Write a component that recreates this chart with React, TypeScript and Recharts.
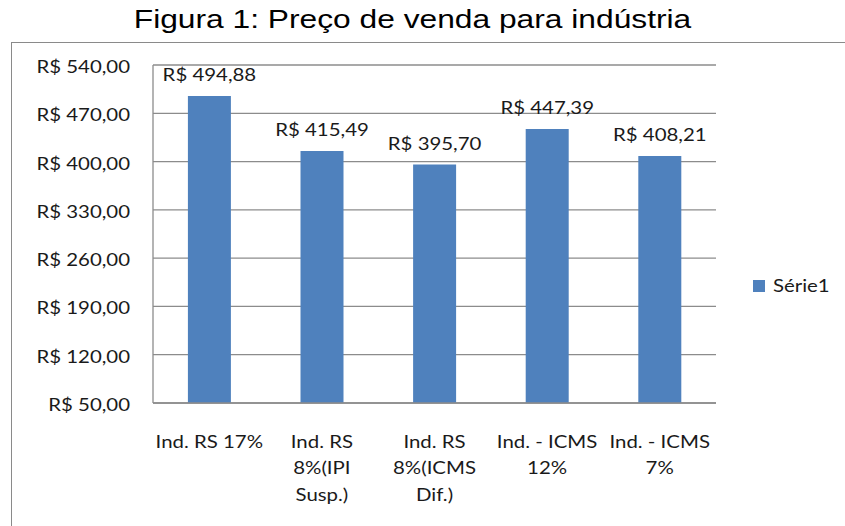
import React from 'react';
import { BarChart, Bar, XAxis, YAxis, CartesianGrid, Legend, LabelList } from 'recharts';

const title = 'Figura 1: Preço de venda para indústria';
const seriesName = 'Série1';
const categories = [
  'Ind. RS 17%',
  'Ind. RS\n8%(IPI\nSusp.)',
  'Ind. RS\n8%(ICMS\nDif.)',
  'Ind. - ICMS\n12%',
  'Ind. - ICMS\n7%',
];
const values = [494.88, 415.49, 395.7, 447.39, 408.21];
const yTicks = [50, 120, 190, 260, 330, 400, 470, 540];

const data = categories.map((c, i) => ({ category: c, value: values[i] }));

const FONT = 'Lato, "Open Sans", sans-serif';
const SX = 1.2;
const FS = 17;
const TEXT = '#1a1a1a';
const GRID = '#8c8c8c';
const BAR = '#4F81BD';

const brl = (v: number) => 'R$ ' + Number(v).toFixed(2).replace('.', ',');

const YTick = (props: any) => {
  const { x, y, payload } = props;
  return (
    <text
      transform={`translate(${x},${y + 8}) scale(${SX},1)`}
      textAnchor="end"
      fontFamily={FONT}
      fontSize={FS}
      fill={TEXT}
    >
      {brl(payload.value)}
    </text>
  );
};

const XTick = (props: any) => {
  const { x, y, payload } = props;
  const lines = String(payload.value).split('\n');
  return (
    <g>
      {lines.map((l, i) => (
        <text
          key={i}
          transform={`translate(${x},${y + 44.5 + i * 26.7}) scale(${SX},1)`}
          textAnchor="middle"
          fontFamily={FONT}
          fontSize={FS}
          fill={TEXT}
        >
          {l}
        </text>
      ))}
    </g>
  );
};

const BarLabel = (props: any) => {
  const vb = props.viewBox || {};
  const x = props.x ?? vb.x;
  const y = props.y ?? vb.y;
  const width = props.width ?? vb.width;
  return (
    <text
      transform={`translate(${x + width / 2},${y - 15}) scale(${SX},1)`}
      textAnchor="middle"
      fontFamily={FONT}
      fontSize={FS}
      fill={TEXT}
    >
      {brl(props.value)}
    </text>
  );
};

const LegendContent = (props: any) => {
  const payload = props.payload || [];
  return (
    <svg width={110} height={24} style={{ display: 'block' }}>
      {payload.map((p: any, i: number) => (
        <g key={i}>
          <rect x={3} y={4} width={12} height={12} fill={BAR} />
          <text
            transform={`translate(23,16) scale(${SX},1)`}
            fontFamily={FONT}
            fontSize={FS}
            fill={TEXT}
          >
            {p.value}
          </text>
        </g>
      ))}
    </svg>
  );
};

export default function App() {
  return (
    <div style={{ position: 'absolute', left: 0, top: 0, width: 845, height: 526, background: '#fff', overflow: 'hidden' }}>
      <div
        style={{
          position: 'absolute',
          left: 11,
          top: 42,
          width: 900,
          height: 600,
          borderLeft: '1.5px solid #8a8a8a',
          borderTop: '1.5px solid #8a8a8a',
        }}
      />
      <svg width={845} height={40} style={{ position: 'absolute', left: 0, top: 0 }}>
        <text
          transform={`translate(412.5,28.3) scale(1.27,1)`}
          textAnchor="middle"
          fontFamily='"Liberation Sans", Arial, sans-serif'
          fontSize={25}
          fill="#000"
        >
          {title}
        </text>
      </svg>
      <div style={{ position: 'absolute', left: 0, top: 0 }}>
        <BarChart
          width={845}
          height={526}
          data={data}
          margin={{ top: 65, right: 129, left: 0, bottom: 0 }}
          barCategoryGap="31%"
        >
          <CartesianGrid vertical={false} stroke={GRID} strokeWidth={1.3} />
          <XAxis
            dataKey="category"
            height={123}
            interval={0}
            tickLine={false}
            tickSize={0}
            tickMargin={0}
            axisLine={{ stroke: GRID, strokeWidth: 1.3 }}
            tick={<XTick />}
          />
          <YAxis
            width={153}
            domain={[50, 540]}
            ticks={yTicks}
            allowDataOverflow
            tickLine={false}
            tickSize={0}
            tickMargin={23}
            axisLine={{ stroke: GRID, strokeWidth: 1.3 }}
            tick={<YTick />}
          />
          <Legend
            layout="horizontal"
            verticalAlign="middle"
            align="center"
            content={<LegendContent />}
            wrapperStyle={{ left: 750, top: 276, width: 110, height: 24 }}
          />
          <Bar dataKey="value" name={seriesName} fill={BAR} isAnimationActive={false}>
            <LabelList dataKey="value" content={<BarLabel />} />
          </Bar>
        </BarChart>
      </div>
    </div>
  );
}
